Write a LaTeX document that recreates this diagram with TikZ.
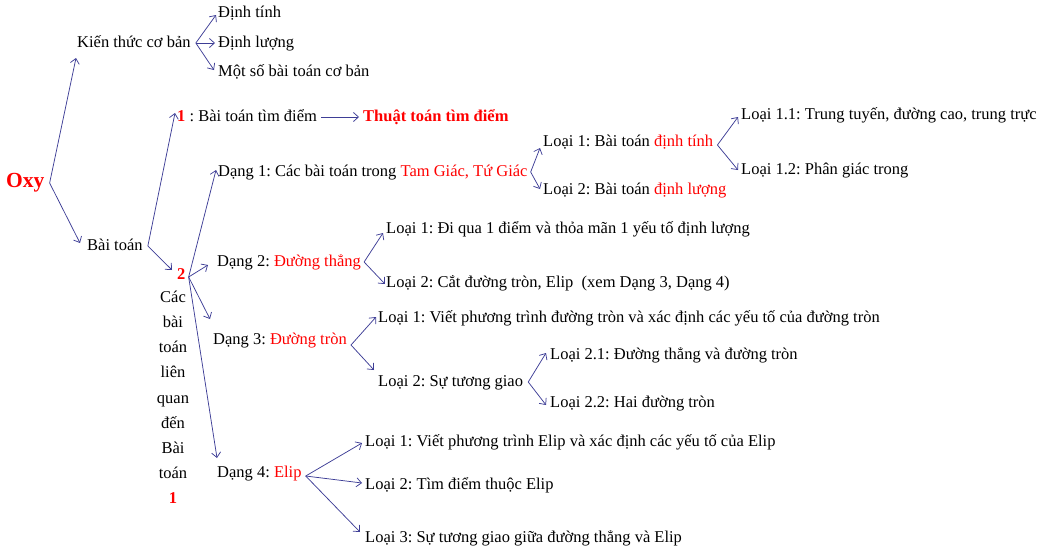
\documentclass[tikz,border=0pt]{standalone}
\usepackage{fontspec}
\setmainfont{Liberation Serif}
\usetikzlibrary{arrows.meta}
\definecolor{arrc}{RGB}{62,62,150}
\definecolor{redt}{RGB}{255,0,0}
\frenchspacing
\tikzset{
  lbl/.style={anchor=west, inner sep=0pt, font=\fontsize{16.5}{20}\selectfont, text height=12pt, text depth=4pt},
  arr/.style={draw=arrc, line width=0.75pt, -{Straight Barb[length=5pt,width=9pt,line width=0.75pt]}},
}
\newcommand{\rd}[1]{\textcolor{redt}{#1}}
\begin{document}
\begin{tikzpicture}[x=1pt,y=-1pt]
\useasboundingbox (0,0) rectangle (1039,552);
% nodes
\node[lbl, font=\fontsize{21.5}{24}\selectfont\bfseries, text=redt] (oxy) at (6,183) {Oxy};
\node[lbl] (kien) at (77,43) {Kiến thức cơ bản};
\node[lbl] (dtinh) at (218,13) {Định tính};
\node[lbl] (dluong) at (218,43) {Định lượng};
\node[lbl] (motso) at (218,72) {Một số bài toán cơ bản};
\node[lbl] (bt) at (87,246) {Bài toán};
\node[lbl] (n1) at (177,117) {\rd{\textbf{1}} : Bài toán tìm điểm};
\node[lbl, font=\fontsize{16.5}{20}\selectfont\bfseries, text=redt] (thuat) at (363,117) {Thuật toán tìm điểm};
\node[lbl, font=\fontsize{16.5}{20}\selectfont\bfseries, text=redt] (n2) at (177,275) {2};
\node[anchor=north, inner sep=0pt, align=center, font=\fontsize{16.5}{25.1}\selectfont] (vert) at (173,291)
  {Các\\bài\\toán\\liên\\quan\\đến\\Bài\\toán\\\rd{\textbf{1}}};
\node[lbl] (d1) at (218,172) {Dạng 1: Các bài toán trong \rd{Tam Giác, Tứ Giác}};
\node[lbl] (d1l1) at (543,142) {Loại 1: Bài toán \rd{định tính}};
\node[lbl] (d1l2) at (543,190) {Loại 2: Bài toán \rd{định lượng}};
\node[lbl] (l11) at (741,115) {Loại 1.1: Trung tuyến, đường cao, trung trực};
\node[lbl] (l12) at (741,170) {Loại 1.2: Phân giác trong};
\node[lbl] (d2) at (217,262) {Dạng 2: \rd{Đường thẳng}};
\node[lbl] (d2l1) at (386,229) {Loại 1: Đi qua 1 điểm và thỏa mãn 1 yếu tố định lượng};
\node[lbl] (d2l2) at (386,283) {Loại 2: Cắt đường tròn, Elip\ \ (xem Dạng 3, Dạng 4)};
\node[lbl] (d3) at (213,340) {Dạng 3: \rd{Đường tròn}};
\node[lbl] (d3l1) at (378,318) {Loại 1: Viết phương trình đường tròn và xác định các yếu tố của đường tròn};
\node[lbl] (d3l2) at (378,382) {Loại 2: Sự tương giao};
\node[lbl] (l21) at (550,355) {Loại 2.1: Đường thẳng và đường tròn};
\node[lbl] (l22) at (550,403) {Loại 2.2: Hai đường tròn};
\node[lbl] (d4) at (217,473) {Dạng 4: \rd{Elip}};
\node[lbl] (d4l1) at (365,442) {Loại 1: Viết phương trình Elip và xác định các yếu tố của Elip};
\node[lbl] (d4l2) at (365,485) {Loại 2: Tìm điểm thuộc Elip};
\node[lbl] (d4l3) at (365,538) {Loại 3: Sự tương giao giữa đường thẳng và Elip};
% fork points
\coordinate (fo) at ([xshift=5pt]oxy.east);
\coordinate (fk) at ([xshift=5pt]kien.east);
\coordinate (fb) at ([xshift=5pt]bt.east);
\coordinate (f2) at ([xshift=3pt,yshift=-2pt]n2.east);
\coordinate (fd1) at ([xshift=3pt]d1.east);
\coordinate (fl1) at ([xshift=4pt,yshift=-3pt]d1l1.east);
\coordinate (fd2) at ([xshift=3pt]d2.east);
\coordinate (fd3) at ([xshift=4pt,yshift=-5pt]d3.east);
\coordinate (fd32) at ([xshift=5pt]d3l2.east);
\coordinate (fd4) at ([xshift=4pt,yshift=-3pt]d4.east);
% connectors
\draw[arr] (fo) -- ([xshift=-1pt,yshift=-15pt]kien.west);
\draw[arr] (fo) -- ([xshift=-7pt,yshift=3pt]bt.west);
\draw[arr] (fk) -- ([xshift=-2pt,yshift=-2pt]dtinh.west);
\draw[arr] (fk) -- ([xshift=-3pt]dluong.west);
\draw[arr] (fk) -- ([xshift=-4pt,yshift=2pt]motso.west);
\draw[arr] (fb) -- ([xshift=-2pt,yshift=4pt]n1.west);
\draw[arr] (fb) -- ([xshift=-5pt,yshift=5pt]n2.west);
\draw[arr] ([xshift=4pt]n1.east) -- ([xshift=-4pt]thuat.west);
\draw[arr] (f2) -- ([xshift=-2pt,yshift=2pt]d1.west);
\draw[arr] (f2) -- ([xshift=-9pt,yshift=-3pt]d2.west);
\draw[arr] (f2) -- ([xshift=-3pt,yshift=21pt]d3.west);
\draw[arr] (f2) -- ([yshift=15pt]d4.west);
\draw[arr] (fd1) -- ([xshift=-3pt,yshift=-6pt]d1l1.west);
\draw[arr] (fd1) -- ([xshift=-3pt,yshift=1pt]d1l2.west);
\draw[arr] (fl1) -- ([xshift=-3pt,yshift=-2pt]l11.west);
\draw[arr] (fl1) -- ([xshift=-3pt]l12.west);
\draw[arr] (fd2) -- ([xshift=-3pt,yshift=-4pt]d2l1.west);
\draw[arr] (fd2) -- ([xshift=-1pt,yshift=-1pt]d2l2.west);
\draw[arr] (fd3) -- ([xshift=-2pt,yshift=1pt]d3l1.west);
\draw[arr] (fd3) -- ([xshift=-4pt,yshift=12pt]d3l2.west);
\draw[arr] (fd32) -- ([xshift=-4pt,yshift=2pt]l21.west);
\draw[arr] (fd32) -- ([xshift=-4pt,yshift=-2pt]l22.west);
\draw[arr] (fd4) -- ([xshift=-3pt,yshift=-1pt]d4l1.west);
\draw[arr] (fd4) -- ([xshift=-3pt,yshift=2pt]d4l2.west);
\draw[arr] (fd4) -- ([xshift=-5pt,yshift=6pt]d4l3.west);
\end{tikzpicture}
\end{document}
